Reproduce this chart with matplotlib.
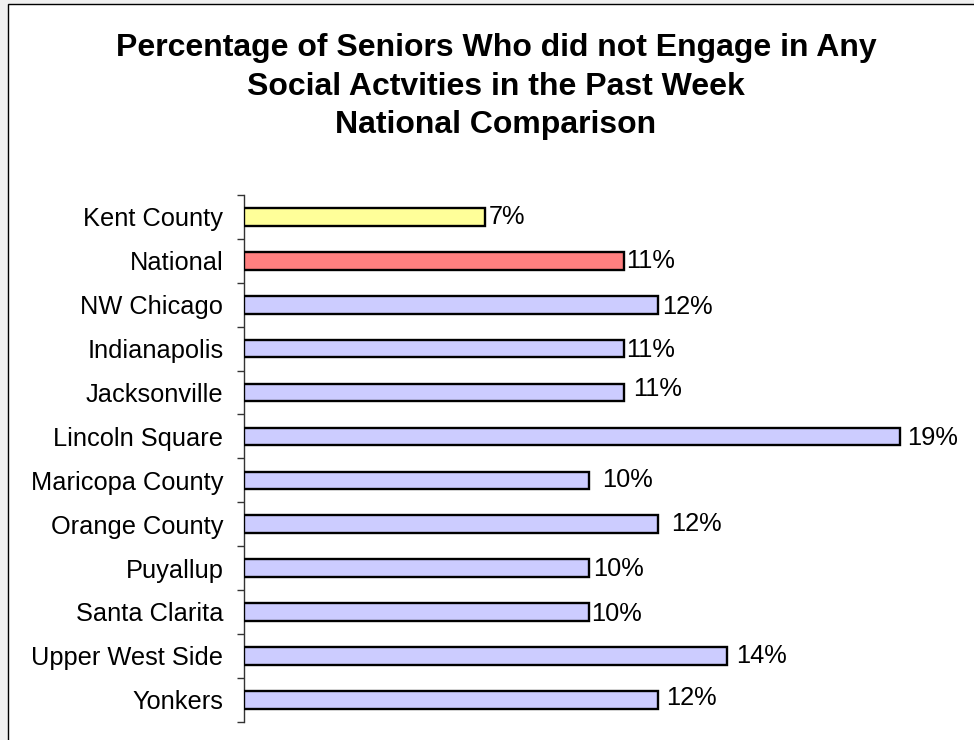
import matplotlib
matplotlib.use("Agg")
import matplotlib.pyplot as plt
from matplotlib.patches import Rectangle
from matplotlib.ticker import FixedLocator, NullLocator

plt.rcParams['font.family'] = ['Liberation Sans', 'DejaVu Sans']

categories = ["Kent County", "National", "NW Chicago", "Indianapolis", "Jacksonville",
              "Lincoln Square", "Maricopa County", "Orange County", "Puyallup",
              "Santa Clarita", "Upper West Side", "Yonkers"]
values = [7, 11, 12, 11, 11, 19, 10, 12, 10, 10, 14, 12]
value_labels = ["7%", "11%", "12%", "11%", "11%", "19%", "10%", "12%", "10%", "10%", "14%", "12%"]
bar_colors = ["#FFFF99", "#FF8080"] + ["#CCCCFF"] * 10
# label offsets (pixels): dx right, dy down
label_dx = [3, 3, 4, 3, 10, 7, 13, 13, 4, 2, 9, 8]
label_dy = [0, 0, 2.7, 1.3, -4, 2, 0, 0, 1.3, 1.6, 0, -1.4]
title = ("Percentage of Seniors Who did not Engage in Any\n"
         "Social Actvities in the Past Week\n"
         "National Comparison")

W, H = 974, 740
fig = plt.figure(figsize=(W / 100, H / 100), dpi=100)
fig.patch.set_facecolor("#f0f0f0")

# white chart frame
frame = Rectangle((7.5 / W, -0.05), 1.2, 1.05 - 3.5 / H, transform=fig.transFigure,
                  facecolor="white", edgecolor="black", linewidth=1.0, zorder=-10)
fig.patches.append(frame)

ax_left = 243.5 / W
ax_right = (243.5 + 20 * 34.55) / W
ax_top = (H - 195) / H
ax_bot = (H - 721.7) / H
ax = fig.add_axes([ax_left, ax_bot, ax_right - ax_left, ax_top - ax_bot])
ax.set_zorder(5)
ax.set_facecolor("none")

y = list(range(len(categories)))
ax.barh(y, values, height=0.4, color=bar_colors, edgecolor="black", linewidth=1.7, zorder=3)
ax.set_xlim(0, 20)
ax.set_ylim(len(categories) - 0.5, -0.5)

for i, (v, lab) in enumerate(zip(values, value_labels)):
    ax.annotate(lab, xy=(v, i), xytext=(label_dx[i] * 0.72, -label_dy[i] * 0.72),
                textcoords="offset points", ha="left", va="center",
                fontsize=18.3, color="black", annotation_clip=False)

for s in ["top", "right", "bottom"]:
    ax.spines[s].set_visible(False)
ax.spines["left"].set_color("#333333")
ax.spines["left"].set_linewidth(1.0)
ax.xaxis.set_major_locator(NullLocator())

ax.yaxis.set_major_locator(FixedLocator([i - 0.5 for i in range(len(categories) + 1)]))
ax.yaxis.set_minor_locator(FixedLocator(y))
ax.set_yticklabels([""] * (len(categories) + 1))
ax.set_yticklabels(categories, minor=True)
ax.tick_params(axis="y", which="major", direction="out", length=5, width=1.0, color="#333333")
ax.tick_params(axis="y", which="minor", length=0, pad=14.5, labelsize=18.3)

fig.text(0.5 + 9 / W, (H - 33) / H, title, ha="center", va="top", fontsize=23,
         fontweight="bold", linespacing=1.38)

fig.savefig("out.png", dpi=100, facecolor=fig.get_facecolor())
